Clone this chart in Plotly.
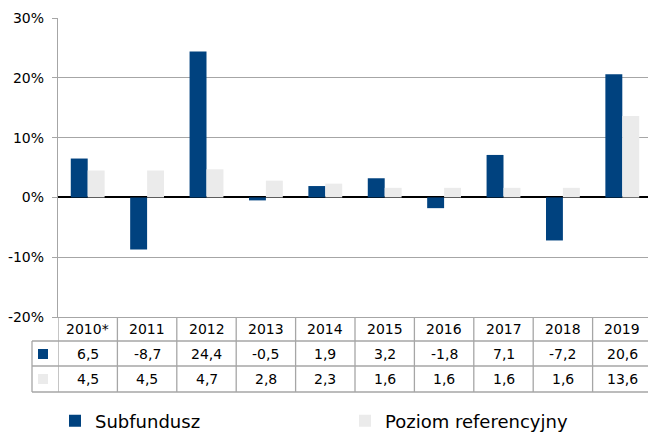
import plotly.graph_objects as go

categories = ["2010*", "2011", "2012", "2013", "2014", "2015", "2016", "2017", "2018", "2019"]
subfundusz = [6.5, -8.7, 24.4, -0.5, 1.9, 3.2, -1.8, 7.1, -7.2, 20.6]
poziom_ref = [4.5, 4.5, 4.7, 2.8, 2.3, 1.6, 1.6, 1.6, 1.6, 13.6]
series_names = ["Subfundusz", "Poziom referencyjny"]
y_ticks = [-20, -10, 0, 10, 20, 30]

BLUE = "#00427F"
GREY = "#EBEBEB"
LINE = "#A6A6A6"
FONT = "DejaVu Sans"

W, H = 648, 432
ML, MR, MT, MB = 58, 0, 18, 115
PW = W - ML - MR
PH = H - MT - MB


def py(p):
    """pixel row -> paper y"""
    return (H - MB - p) / PH


def px(p):
    return (p - ML) / PW


fig = go.Figure()
fig.add_trace(go.Bar(x=categories, y=subfundusz, name=series_names[0],
                     marker=dict(color=BLUE, line=dict(width=0))))
fig.add_trace(go.Bar(x=categories, y=poziom_ref, name=series_names[1],
                     marker=dict(color=GREY, line=dict(width=0))))

shapes = []
annotations = []

# table row geometry (pixels)
row_lines = [341, 366, 392]
row_centers = [329, 354, 379]

for r in row_lines:
    shapes.append(dict(type="line", xref="paper", yref="paper",
                       x0=px(32), x1=1.0, y0=py(r), y1=py(r),
                       line=dict(color=LINE, width=1.3)))
for i in range(len(categories) + 1):
    shapes.append(dict(type="line", xref="x", yref="paper",
                       x0=i - 0.5, x1=i - 0.5, y0=0, y1=py(392),
                       line=dict(color=LINE, width=1.3)))
shapes.append(dict(type="line", xref="paper", yref="paper",
                   x0=px(32), x1=px(32), y0=py(341), y1=py(392),
                   line=dict(color=LINE, width=1.3)))
for color, c in zip([BLUE, GREY], row_centers[1:]):
    shapes.append(dict(type="rect", xref="paper", yref="paper",
                       x0=px(38), x1=px(48), y0=py(c - 5), y1=py(c + 5),
                       fillcolor=color, line=dict(width=0)))


def fmt(v):
    return f"{v:.1f}".replace(".", ",")


for i, cat in enumerate(categories):
    annotations.append(dict(x=i, xref="x", y=py(row_centers[0]), yref="paper",
                            xanchor="center", yanchor="middle",
                            text=cat, showarrow=False,
                            font=dict(family=FONT, size=14, color="#000")))
    for vals, c in zip([subfundusz, poziom_ref], row_centers[1:]):
        annotations.append(dict(x=i, xref="x", y=py(c), yref="paper",
                                xanchor="center", yanchor="middle",
                                text=fmt(vals[i]), showarrow=False,
                                font=dict(family=FONT, size=14, color="#000")))

col_w = 59.4
fig.update_layout(
    width=W, height=H,
    margin=dict(l=ML, r=MR, t=MT, b=MB, pad=0, autoexpand=False),
    paper_bgcolor="white", plot_bgcolor="white",
    barmode="group", bargap=0.43, bargroupgap=0,
    font=dict(family=FONT, size=14, color="#000"),
    showlegend=True,
    legend=dict(orientation="h", x=px(55), xanchor="left",
                y=py(421), yanchor="middle",
                entrywidth=245, entrywidthmode="pixels",
                font=dict(family=FONT, size=18, color="#000"),
                bgcolor="rgba(0,0,0,0)", borderwidth=0),
    shapes=shapes,
    annotations=annotations,
    xaxis=dict(type="category", range=[-0.5, -0.5 + PW / col_w],
               showticklabels=False, showgrid=False, zeroline=False,
               showline=True, linecolor=LINE, linewidth=1.3, ticks="",
               automargin=False),
    yaxis=dict(range=[-20, 30], tickvals=y_ticks,
               ticktext=[f"{v}%" for v in y_ticks],
               showgrid=True, gridcolor=LINE, gridwidth=1,
               zeroline=True, zerolinecolor="#000", zerolinewidth=1.5,
               showline=True, linecolor=LINE, linewidth=1.3,
               ticks="outside", ticklen=5, tickcolor=LINE,
               ticklabelstandoff=5,
               automargin=False,
               tickfont=dict(family=FONT, size=14, color="#000")),
)

fig.write_html("out.html",
               config={"displayModeBar": False},
               post_script="document.body.style.margin='0px';document.body.style.overflow='hidden';")
